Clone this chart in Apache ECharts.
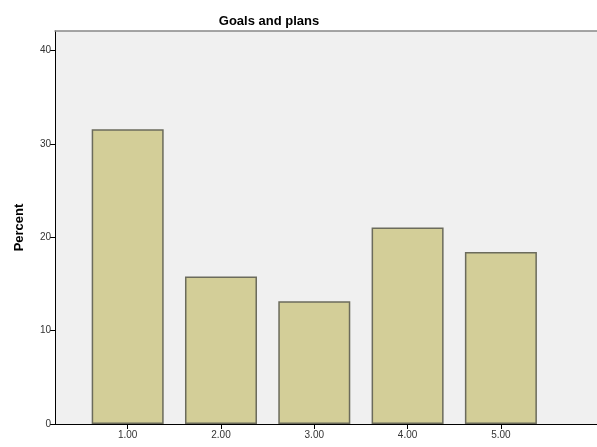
<!DOCTYPE html>
<html>
<head>
<meta charset="utf-8">
<script src="https://cdn.jsdelivr.net/npm/echarts@6/dist/echarts.min.js"></script>
<style>
html,body{margin:0;padding:0;background:#fff;}
#c{width:597px;height:447px;}
</style>
</head>
<body>
<div id="c"></div>
<script>
var title = "Goals and plans";
var yName = "Percent";
var categories = [1, 2, 3, 4, 5];
var categoryLabels = ["1.00", "2.00", "3.00", "4.00", "5.00"];
var percents = [31.58, 15.79, 13.16, 21.05, 18.42];
var yTicks = [0, 10, 20, 30, 40];

var chart = echarts.init(document.getElementById('c'), null, {renderer: 'canvas'});
var seriesData = categories.map(function (c, i) { return [c, percents[i]]; });
chart.setOption({
  animation: false,
  backgroundColor: '#ffffff',
  title: {
    text: title,
    left: 264,
    top: 10,
    textAlign: 'center',
    textStyle: {fontFamily: 'Liberation Sans, Arial', fontSize: 13, fontWeight: 'bold', color: '#000'}
  },
  grid: {
    left: 55, right: 0, top: 31, bottom: 23,
    show: true, backgroundColor: '#f0f0f0', borderWidth: 0
  },
  xAxis: [{
    type: 'value',
    min: 0.221,
    max: 6.03,
    splitLine: {show: false},
    axisLine: {show: true, lineStyle: {color: '#000', width: 1}},
    axisTick: {show: true, customValues: categories, length: 5, lineStyle: {color: '#000'}},
    axisLabel: {
      customValues: categories,
      formatter: function (v) { var i = categories.indexOf(v); return i >= 0 ? categoryLabels[i] : ''; },
      fontFamily: 'Liberation Sans, Arial', fontSize: 10, color: '#333', margin: 6
    }
  }, {
    type: 'value',
    position: 'top',
    min: 0.221,
    max: 6.03,
    splitLine: {show: false},
    axisLine: {show: true, lineStyle: {color: '#888', width: 1.5}},
    axisTick: {show: false},
    axisLabel: {show: false}
  }],
  yAxis: {
    type: 'value',
    min: 0,
    max: 42.1,
    name: yName,
    nameLocation: 'middle',
    nameGap: 29,
    nameTextStyle: {fontFamily: 'Liberation Sans, Arial', fontSize: 13, fontWeight: 'bold', color: '#000'},
    splitLine: {show: false},
    axisLine: {show: true, lineStyle: {color: '#000', width: 1}},
    axisTick: {show: true, customValues: yTicks, length: 5, lineStyle: {color: '#000'}},
    axisLabel: {
      customValues: yTicks,
      fontFamily: 'Liberation Sans, Arial', fontSize: 10, color: '#333', margin: 4
    }
  },
  series: [{
    type: 'bar',
    xAxisIndex: 0,
    data: seriesData,
    barWidth: 72,
    itemStyle: {color: '#d3ce98', borderColor: '#6b6b5c', borderWidth: 1.5}
  }]
});
</script>
</body>
</html>
